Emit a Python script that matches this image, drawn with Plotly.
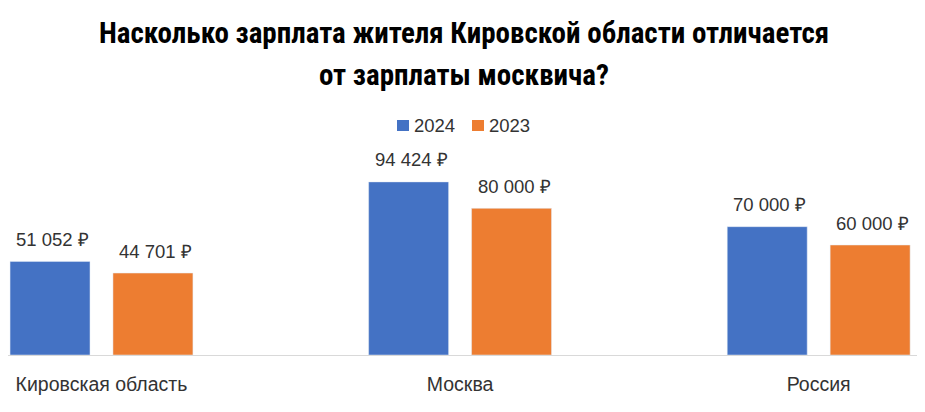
import plotly.graph_objects as go

regions = ["Кировская область", "Москва", "Россия"]
years = ["2024", "2023"]
salary_2024 = [51052, 94424, 70000]
salary_2023 = [44701, 80000, 60000]

BLUE = "#4472C4"
ORANGE = "#ED7D31"
TEXT = "#333333"
FONT = "Liberation Sans, Arial, sans-serif"
NARROW = "Liberation Sans Narrow, Arial Narrow, Roboto Condensed, Liberation Sans, sans-serif"

# the page has an 8px body margin, so the figure is a bit smaller than the window
W, H = 917, 404
T, B = 127, 57
PLOT_H = H - T - B


def rub(v):
    return f"{v:,}".replace(",", " ") + " ₽"


def py(fig_y):
    # figure pixel row -> paper y
    return (H - B - fig_y) / PLOT_H


fig = go.Figure()
fig.add_trace(go.Bar(x=regions, y=salary_2024, name=years[0], marker_color=BLUE,
                     width=0.223, offset=-0.255, showlegend=False))
fig.add_trace(go.Bar(x=regions, y=salary_2023, name=years[1], marker_color=ORANGE,
                     width=0.223, offset=0.032, showlegend=False))

# value labels above the bars
for vals, shift in ((salary_2024, -49), (salary_2023, 54)):
    for r, v in zip(regions, vals):
        fig.add_annotation(x=r, y=v, text=rub(v), showarrow=False, xshift=shift,
                           yanchor="middle", yshift=22,
                           font=dict(family=FONT, size=18.5, color=TEXT))

# two-line title
fig.add_annotation(xref="paper", yref="paper", x=0.5, y=1, yshift=102, xshift=-3,
                   text="<b>Насколько зарплата жителя Кировской области отличается</b>",
                   showarrow=False, yanchor="middle",
                   font=dict(family=NARROW, size=29, color="#000000"))
fig.add_annotation(xref="paper", yref="paper", x=0.5, y=1, yshift=60, xshift=-3,
                   text="<b>от зарплаты москвича?</b>",
                   showarrow=False, yanchor="middle",
                   font=dict(family=NARROW, size=29, color="#000000"))

# compact legend: swatch + label
for name, color, sx in ((years[0], BLUE, 389), (years[1], ORANGE, 464)):
    fig.add_shape(type="rect", xref="paper", yref="paper",
                  x0=sx / W, x1=(sx + 12) / W, y0=py(123), y1=py(112),
                  fillcolor=color, line_width=0)
    fig.add_annotation(xref="paper", yref="paper", x=(sx + 15) / W, y=py(118),
                       text=name, showarrow=False, xanchor="left", yanchor="middle",
                       font=dict(family=FONT, size=18.5, color=TEXT))

fig.update_layout(
    width=W, height=H,
    paper_bgcolor="white", plot_bgcolor="white",
    margin=dict(l=0, r=0, t=T, b=B),
    showlegend=False,
    font=dict(family=FONT, color=TEXT),
)

fig.update_xaxes(range=[-0.2607, 2.2965], showline=True, linecolor="#D9D9D9",
                 linewidth=1, ticks="", ticklabelstandoff=12,
                 tickfont=dict(family=FONT, size=19.5, color=TEXT), showgrid=False)
fig.update_yaxes(range=[0, 120000], visible=False, showgrid=False, zeroline=False)

fig.write_html("out.html")
